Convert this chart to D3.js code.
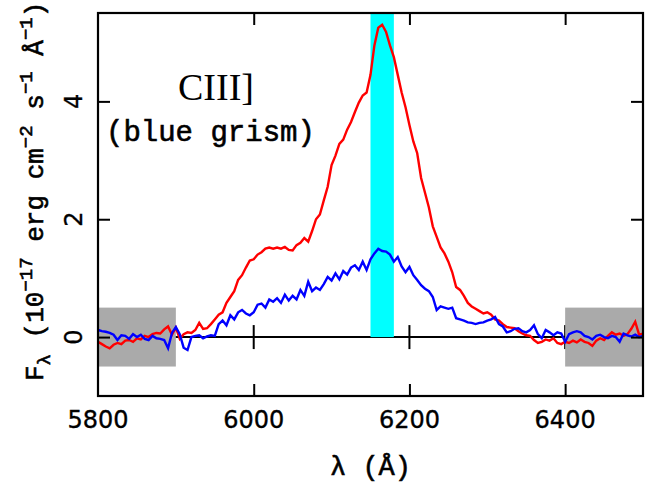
<!DOCTYPE html>
<html>
<head>
<meta charset="utf-8">
<script src="https://cdn.jsdelivr.net/npm/d3@7"></script>
<style>
  body { margin: 0; background: #fff; }
  svg { display: block; }
</style>
</head>
<body>
<svg id="chart" width="662" height="492"></svg>
<script>
// wavelength grid (Angstrom) - one sample every 5 A
var lambda = d3.range(5800, 6505, 5);

// flux, 1e-17 erg/cm2/s/A
var fluxRed = [
  -0.08,-0.12,-0.16,-0.19,-0.13,-0.10,-0.12,-0.06,-0.05,-0.08,
  -0.02,-0.04, 0.02, 0.00, 0.05, 0.07, 0.06, 0.13, 0.18, 0.04,
   0.16,-0.03, 0.05, 0.08, 0.07, 0.12, 0.24, 0.14, 0.15, 0.22,
   0.30, 0.38, 0.42, 0.58, 0.68, 0.78, 0.97, 1.05, 1.18, 1.30,
   1.32, 1.40, 1.44, 1.50, 1.52, 1.50, 1.52, 1.50, 1.53, 1.48,
   1.47, 1.56, 1.60, 1.68, 1.62, 1.80, 2.00, 2.08, 2.32, 2.55,
   2.92, 3.08, 3.28, 3.35, 3.52, 3.65, 3.82, 3.98, 4.10, 4.15,
   4.45, 4.95, 5.25, 5.30, 5.18, 4.95, 4.75, 4.45, 4.15, 3.90,
   3.60, 3.32, 3.12, 2.70, 2.45, 2.20, 1.88, 1.70, 1.52, 1.42,
   1.28, 1.10, 0.85, 0.80, 0.70, 0.58, 0.52, 0.48, 0.44, 0.40,
   0.42, 0.38, 0.30, 0.28, 0.22, 0.17, 0.16, 0.15, 0.10, 0.06,
   0.03, 0.02,-0.05,-0.10,-0.08,-0.04,-0.06,-0.02,-0.10,-0.12,
  -0.08,-0.10,-0.06,-0.09,-0.04,-0.08,-0.10,-0.15,-0.06,-0.02,
  -0.05, 0.02, 0.08, 0.04, 0.06, 0.02, 0.05, 0.14, 0.26, 0.04,
   0.06
];
var fluxBlue = [
   0.12, 0.10, 0.09, 0.07, 0.04,-0.05, 0.03, 0.02,-0.03, 0.05,
   0.00, 0.04,-0.03,-0.05, 0.02,-0.02,-0.03,-0.05,-0.19, 0.07,
   0.17, 0.05,-0.18,-0.22, 0.00, 0.02, 0.03,-0.02, 0.01, 0.03,
   0.02, 0.22, 0.28, 0.20, 0.37, 0.30, 0.42, 0.46, 0.40, 0.37,
   0.42, 0.55, 0.57, 0.50, 0.64, 0.60, 0.66, 0.58, 0.72, 0.62,
   0.70, 0.64, 0.80, 0.70, 0.94, 0.78, 0.84, 0.80, 0.90, 1.02,
   0.96, 1.08, 0.98, 1.12, 1.06, 1.18, 1.22, 1.14, 1.28, 1.14,
   1.32, 1.42, 1.50, 1.46, 1.45, 1.40, 1.28, 1.36, 1.20, 1.10,
   1.19, 1.05, 0.97, 0.88, 0.82, 0.78, 0.68, 0.46, 0.52, 0.50,
   0.48, 0.50, 0.32, 0.30, 0.28, 0.25, 0.24, 0.22, 0.24, 0.25,
   0.28, 0.30, 0.34, 0.22, 0.18, 0.08, 0.10, 0.14, 0.15, 0.10,
   0.08, 0.12, 0.20, 0.05,-0.02, 0.12, 0.08, 0.03, 0.08, 0.06,
  -0.08, 0.05, 0.08, 0.10, 0.08, 0.02, 0.00,-0.04, 0.02, 0.04,
   0.00,-0.02, 0.02, 0.00,-0.08, 0.06, 0.03, 0.01, 0.04, 0.00,
   0.02
];

var xTicks = [6000, 6200, 6400];
var xLabels = [5800, 6000, 6200, 6400];
var yTicks = [0, 2, 4];
var lineBand = [6150, 6180];          // CIII] window
var contBands = [[5800, 5900], [6400, 6500]];
var contHalf = 0.5;

var svg = d3.select("#chart");
var L = 98, R = 643, T = 13, B = 396;

var x = d3.scaleLinear().domain([5800, 6500]).range([L, R]);
var y = d3.scaleLinear().domain([-1, 5.5]).range([B, T]);

//zero line with crossing ticks
svg.append("line")
  .attr("x1", L).attr("x2", R).attr("y1", y(0)).attr("y2", y(0))
  .attr("stroke", "#000").attr("stroke-width", 2);
svg.selectAll("line.zt").data(xTicks).enter().append("line")
  .attr("class", "zt")
  .attr("x1", d => x(d)).attr("x2", d => x(d))
  .attr("y1", y(0) - 12).attr("y2", y(0) + 12)
  .attr("stroke", "#000").attr("stroke-width", 2);

// cyan band
svg.append("rect")
  .attr("x", x(lineBand[0])).attr("width", x(lineBand[1]) - x(lineBand[0]))
  .attr("y", y(5.5)).attr("height", y(0) - y(5.5))
  .attr("fill", "#00ffff");

// grey continuum windows
svg.selectAll("rect.cont").data(contBands).enter().append("rect")
  .attr("class", "cont")
  .attr("x", d => x(d[0])).attr("width", d => x(d[1]) - x(d[0]))
  .attr("y", y(contHalf)).attr("height", y(-contHalf) - y(contHalf))
  .attr("fill", "#aaaaaa");

var line = d3.line().x((d, i) => x(lambda[i])).y(d => y(d));
svg.append("path").datum(fluxRed).attr("d", line)
  .attr("fill", "none").attr("stroke", "#ff0000").attr("stroke-width", 2.4);
svg.append("path").datum(fluxBlue).attr("d", line)
  .attr("fill", "none").attr("stroke", "#0000ff").attr("stroke-width", 2.4);

// frame
svg.append("rect").attr("x", L).attr("y", T).attr("width", R - L).attr("height", B - T)
  .attr("fill", "none").attr("stroke", "#000").attr("stroke-width", 2.2);

// ticks on all four sides, pointing in
svg.append("g").attr("transform", "translate(0," + B + ")")
  .call(d3.axisTop(x).tickValues(xTicks).tickSize(12).tickFormat(""));
svg.append("g").attr("transform", "translate(0," + T + ")")
  .call(d3.axisBottom(x).tickValues(xTicks).tickSize(12).tickFormat(""));
svg.append("g").attr("transform", "translate(" + L + ",0)")
  .call(d3.axisRight(y).tickValues(yTicks).tickSize(12).tickFormat(""));
svg.append("g").attr("transform", "translate(" + R + ",0)")
  .call(d3.axisLeft(y).tickValues(yTicks).tickSize(12).tickFormat(""));
svg.selectAll(".domain").remove();
svg.selectAll(".tick line").attr("stroke", "#000").attr("stroke-width", 2);

// tick labels
svg.selectAll("text.xl").data(xLabels).enter().append("text")
  .attr("class", "xl")
  .attr("x", d => x(d)).attr("y", 428)
  .attr("text-anchor", "middle")
  .style("font-family", "DejaVu Sans").style("font-size", "24px")
  .style("stroke", "#000").style("stroke-width", 0.35)
  .text(d => d);
svg.selectAll("text.yl").data(yTicks).enter().append("text")
  .attr("class", "yl")
  .attr("transform", d => "translate(82," + y(d) + ") rotate(-90)")
  .attr("text-anchor", "middle")
  .style("font-family", "DejaVu Sans").style("font-size", "24px")
  .style("stroke", "#000").style("stroke-width", 0.35)
  .text(d => d);

var mono = "Liberation Mono";

// x label
svg.append("text")
  .attr("x", (L + R) / 2).attr("y", 475)
  .attr("text-anchor", "middle")
  .style("font-family", mono).style("font-size", "27px")
  .style("stroke", "#000").style("stroke-width", 0.6)
  .text("λ (Å)");

// y label
var yl = svg.append("text")
  .attr("transform", "translate(43,381) rotate(-90)")
  .style("font-family", mono).style("font-size", "26px")
  .style("stroke", "#000").style("stroke-width", 0.6);
yl.append("tspan").text("F");
yl.append("tspan").attr("dy", 7).style("font-size", "19px").text("λ");
yl.append("tspan").attr("dy", -7).text(" (10");
yl.append("tspan").attr("dy", -11).style("font-size", "19px").text("−17");
yl.append("tspan").attr("dy", 11).text(" erg cm");
yl.append("tspan").attr("dy", -11).style("font-size", "19px").text("−2");
yl.append("tspan").attr("dy", 11).text(" s");
yl.append("tspan").attr("dy", -11).style("font-size", "19px").text("−1");
yl.append("tspan").attr("dy", 11).text(" Å");
yl.append("tspan").attr("dy", -11).style("font-size", "19px").text("−1");
yl.append("tspan").attr("dy", 11).text(")");

// annotation
svg.append("text").attr("x", 178).attr("y", 100)
  .style("font-family", "Liberation Serif").style("font-size", "38px")
  .text("CIII]");
svg.append("text").attr("x", 106).attr("y", 141)
  .style("font-family", mono).style("font-size", "29px")
  .style("stroke", "#000").style("stroke-width", 0.6)
  .text("(blue grism)");
</script>
</body>
</html>
